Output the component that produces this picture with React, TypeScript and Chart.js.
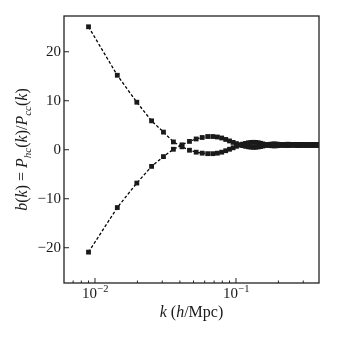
import React, { useEffect, useRef } from "react";
import { Chart, registerables } from "chart.js";

Chart.register(...registerables);

const kValues = [
  0.0090, 0.0144, 0.0198, 0.0252, 0.0306, 0.0360, 0.0414, 0.0468, 0.0522, 0.0576,
  0.0630, 0.0684, 0.0738, 0.0792, 0.0846, 0.0900, 0.0954, 0.1008, 0.1062, 0.1116,
  0.1170, 0.1224, 0.1278, 0.1332, 0.1386, 0.1440, 0.1494, 0.1548, 0.1602, 0.1656,
  0.1710, 0.1764, 0.1818, 0.1872, 0.1926, 0.1980, 0.2034, 0.2088, 0.2142, 0.2196,
  0.2250, 0.2304, 0.2358, 0.2412, 0.2466, 0.2520, 0.2574, 0.2628, 0.2682, 0.2736,
  0.2790, 0.2844, 0.2898, 0.2952, 0.3006, 0.3060, 0.3114, 0.3168, 0.3222, 0.3276,
  0.3330, 0.3384, 0.3438, 0.3492, 0.3546, 0.3600, 0.3654, 0.3708, 0.3762, 0.3816,
  0.3870,
];

const biasUpper = [
  25.1, 15.2, 9.7, 5.9, 3.6, 1.6, 0.6, -0.1, -0.5, -0.7,
  -0.8, -0.8, -0.7, -0.5, -0.2, 0.1, 0.4, 0.7, 0.95, 1.15,
  1.3, 1.42, 1.5, 1.52, 1.5, 1.42, 1.32, 1.2, 1.08, 0.98,
  0.9, 0.84, 0.81, 0.8, 0.81, 0.84, 0.89, 0.95, 1.0, 1.05,
  1.09, 1.11, 1.11, 1.09, 1.06, 1.02, 0.98, 0.94, 0.91, 0.9,
  0.9, 0.92, 0.95, 0.98, 1.01, 1.04, 1.06, 1.07, 1.06, 1.04,
  1.01, 0.98, 0.95, 0.93, 0.92, 0.93, 0.95, 0.98, 1.0, 1.02,
  1.04,
];

const biasLower = [
  -20.9, -11.8, -6.8, -3.4, -1.4, 0.1, 1.0, 1.7, 2.2, 2.5,
  2.7, 2.7, 2.6, 2.4, 2.1, 1.8, 1.5, 1.25, 1.02, 0.84,
  0.7, 0.6, 0.53, 0.5, 0.52, 0.58, 0.66, 0.76, 0.87, 0.97,
  1.06, 1.12, 1.16, 1.17, 1.15, 1.12, 1.07, 1.02, 0.97, 0.93,
  0.9, 0.89, 0.89, 0.91, 0.94, 0.98, 1.02, 1.05, 1.08, 1.09,
  1.09, 1.07, 1.04, 1.01, 0.98, 0.95, 0.93, 0.92, 0.93, 0.95,
  0.98, 1.01, 1.03, 1.05, 1.06, 1.05, 1.03, 1.01, 0.99, 0.97,
  0.96,
];

const xMajorTicks = [0.01, 0.1];
const xMajorExponents = ["\u22122", "\u22121"];
const xMinorTicks = [
  0.006, 0.007, 0.008, 0.009,
  0.02, 0.03, 0.04, 0.05, 0.06, 0.07, 0.08, 0.09,
  0.2, 0.3,
];
const yTicks = [-20, -10, 0, 10, 20];

const X_MIN = 0.00603;
const X_MAX = 0.388;
const Y_MIN = -27.2;
const Y_MAX = 27.3;

const SERIF = "'Liberation Serif', 'DejaVu Serif', serif";
const INK = "#1a1a1a";
const TICK_SIZE = 15;
const TITLE_SIZE = 16;

type Part = { t: string; it?: boolean; sub?: boolean };

function drawParts(ctx: CanvasRenderingContext2D, parts: Part[], size: number, cx: number, baseline: number) {
  const fontFor = (p: Part) =>
    `${p.it ? "italic " : ""}${p.sub ? Math.round(size * 0.7) : size}px ${SERIF}`;
  let total = 0;
  const widths = parts.map((p) => {
    ctx.font = fontFor(p);
    const w = ctx.measureText(p.t).width;
    total += w;
    return w;
  });
  let x = cx - total / 2;
  ctx.textAlign = "left";
  ctx.textBaseline = "alphabetic";
  parts.forEach((p, i) => {
    ctx.font = fontFor(p);
    ctx.fillText(p.t, x, baseline + (p.sub ? size * 0.22 : 0));
    x += widths[i];
  });
}

const framePlugin = {
  id: "framePlugin",
  afterDraw(chart: any) {
    const { ctx, chartArea } = chart;
    const { left, right, top, bottom } = chartArea;
    const xs = chart.scales.x;
    const ys = chart.scales.y;
    ctx.save();
    ctx.strokeStyle = "#222";
    ctx.lineWidth = 1.3;
    ctx.strokeRect(left, top, right - left, bottom - top);

    ctx.lineWidth = 1;
    ctx.beginPath();
    xMajorTicks.forEach((v) => {
      const px = xs.getPixelForValue(v);
      ctx.moveTo(px, bottom);
      ctx.lineTo(px, bottom - 5);
    });
    xMinorTicks.forEach((v) => {
      const px = xs.getPixelForValue(v);
      if (px <= left + 0.5 || px >= right - 0.5) return;
      ctx.moveTo(px, bottom);
      ctx.lineTo(px, bottom - 2.5);
    });
    yTicks.forEach((v) => {
      const py = ys.getPixelForValue(v);
      ctx.moveTo(left, py);
      ctx.lineTo(left + 5, py);
    });
    ctx.stroke();

    ctx.fillStyle = INK;
    // x tick labels 10^n
    xMajorTicks.forEach((v, i) => {
      const px = xs.getPixelForValue(v);
      ctx.font = `${TICK_SIZE}px ${SERIF}`;
      const w1 = ctx.measureText("10").width;
      ctx.font = `10.5px ${SERIF}`;
      const w2 = ctx.measureText(xMajorExponents[i]).width;
      const x0 = px - (w1 + w2) / 2;
      ctx.textAlign = "left";
      ctx.textBaseline = "alphabetic";
      ctx.font = `${TICK_SIZE}px ${SERIF}`;
      ctx.fillText("10", x0, 298);
      ctx.font = `10.5px ${SERIF}`;
      ctx.fillText(xMajorExponents[i], x0 + w1 + 0.5, 291.5);
    });

    // x axis title
    drawParts(
      ctx,
      [{ t: "k", it: true }, { t: " (" }, { t: "h", it: true }, { t: "/Mpc)" }],
      TITLE_SIZE,
      (left + right) / 2,
      317
    );

    // y axis title
    ctx.save();
    ctx.translate(27, (top + bottom) / 2);
    ctx.rotate(-Math.PI / 2);
    drawParts(
      ctx,
      [
        { t: "b", it: true }, { t: "(" }, { t: "k", it: true }, { t: ") = " },
        { t: "P", it: true }, { t: "hc", it: true, sub: true }, { t: "(" }, { t: "k", it: true }, { t: ")/" },
        { t: "P", it: true }, { t: "cc", it: true, sub: true }, { t: "(" }, { t: "k", it: true }, { t: ")" },
      ],
      TITLE_SIZE,
      0,
      0
    );
    ctx.restore();
    ctx.restore();
  },
};

export default function App() {
  const canvasRef = useRef<HTMLCanvasElement | null>(null);

  useEffect(() => {
    if (!canvasRef.current) return;
    const mk = (vals: number[]) => kValues.map((k, i) => ({ x: k, y: vals[i] }));
    const dsStyle = {
      borderColor: "#000",
      borderWidth: 1.3,
      borderDash: [3, 2],
      pointStyle: "rect" as const,
      pointRadius: 3.4,
      pointBackgroundColor: INK,
      pointBorderColor: INK,
      pointBorderWidth: 0,
      fill: false,
      tension: 0,
    };
    const chart = new Chart(canvasRef.current, {
      type: "line",
      data: {
        datasets: [
          { label: "upper", data: mk(biasUpper), ...dsStyle },
          { label: "lower", data: mk(biasLower), ...dsStyle },
        ],
      },
      options: {
        responsive: false,
        animation: false,
        devicePixelRatio: 1,
        layout: { padding: { left: 0, right: 18, top: 16, bottom: 0 } },
        plugins: { legend: { display: false }, tooltip: { enabled: false } },
        scales: {
          x: {
            type: "logarithmic",
            min: X_MIN,
            max: X_MAX,
            grid: { display: false, drawTicks: false },
            border: { display: false },
            ticks: { display: false },
            afterFit: (s: any) => {
              s.height = 54;
            },
          },
          y: {
            type: "linear",
            min: Y_MIN,
            max: Y_MAX,
            grid: { display: false, drawTicks: false },
            border: { display: false },
            afterBuildTicks: (s: any) => {
              s.ticks = yTicks.map((v) => ({ value: v }));
            },
            ticks: {
              padding: 3,
              color: INK,
              font: { family: SERIF, size: TICK_SIZE },
              callback: (v: any) => (Number(v) < 0 ? "\u2212" + Math.abs(Number(v)) : String(v)),
            },
            afterFit: (s: any) => {
              s.width = 64;
            },
          },
        },
      },
      plugins: [framePlugin],
    });
    return () => chart.destroy();
  }, []);

  return (
    <div style={{ position: "fixed", left: 0, top: 0, width: 337, height: 337, background: "#fff" }}>
      <canvas ref={canvasRef} width={337} height={337} style={{ width: 337, height: 337 }} />
    </div>
  );
}
